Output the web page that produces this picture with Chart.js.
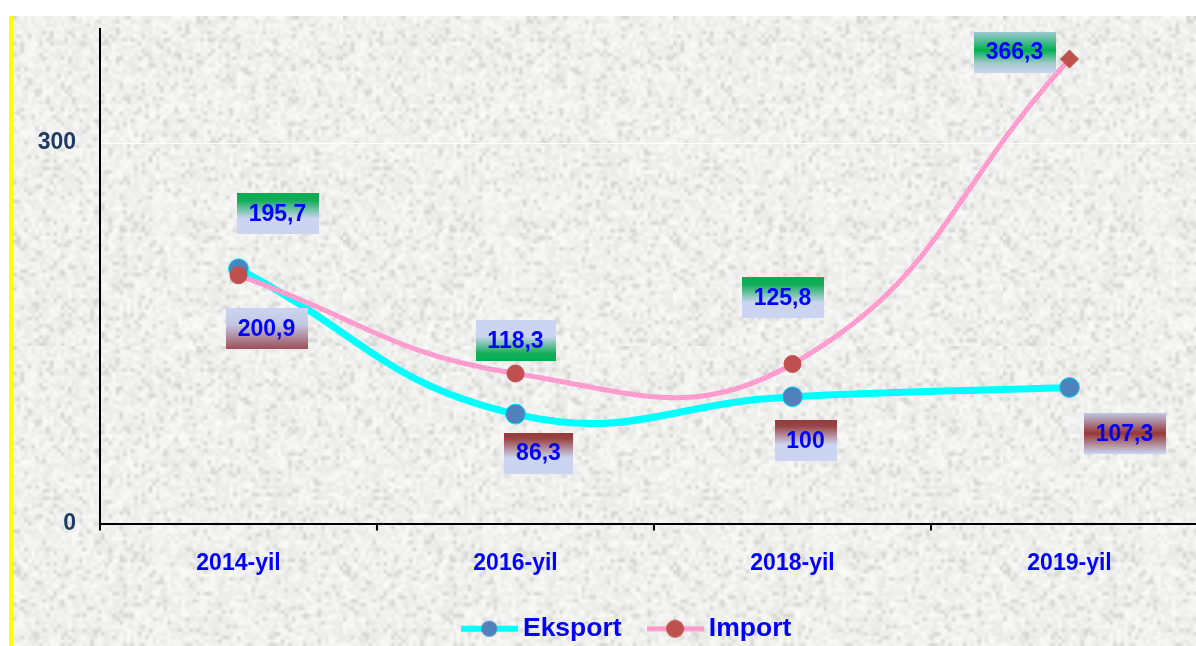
<!DOCTYPE html>
<html>
<head>
<meta charset="utf-8">
<script src="https://cdn.jsdelivr.net/npm/chart.js@4.4.0/dist/chart.umd.min.js"></script>
<style>
  html, body { margin: 0; padding: 0; background: #fff; }
  #bar { position: absolute; left: 9px; top: 16px; width: 4px; height: 630px; background: #ffff00; }
  #wrap { position: absolute; left: 13px; top: 16px; width: 1183px; height: 630px; overflow: hidden; background-color: #ebebe9; }
  #wrap canvas { position: absolute; left: 0; top: 0; }
</style>
</head>
<body>
<div id="bar"></div>
<div id="wrap"><canvas id="chart" width="1246" height="640"></canvas></div>
<script>
const years = ['2014-yil', '2016-yil', '2018-yil', '2019-yil'];
const eksport = [200.9, 86.3, 100, 107.3];
const importVals = [195.7, 118.3, 125.8, 366.3];
const yTicks = [0, 300];

const FONT = 'Arial, "Liberation Sans", sans-serif';

// label box placement relative to the point (dx, dy of box centre)
const eksportOffsets = [[28, 60], [23, 39], [13, 44], [55, 46]];
const importOffsets = [[39, -62], [0, -33], [-10, -66], [-55, -7]];

const lav = '#cbd5f1';
const green = '#00b050';
const red = '#953838';
const fills = {
  greenTop: [[0, green], [0.18, '#12ad58'], [0.62, lav], [1, lav]],
  greenBottom: [[0, lav], [0.4, lav], [0.82, '#12ad58'], [1, green]],
  greenMid: [[0, '#9ccad2'], [0.45, green], [0.75, '#9fc8c8'], [1, lav]],
  redTop: [[0, red], [0.15, '#9a4545'], [0.6, lav], [1, lav]],
  redBottom: [[0, lav], [0.4, '#c4c8e2'], [1, '#9c4f58']],
  redMid: [[0, '#c2c6e4'], [0.5, red], [1, lav]]
};
const eksportFills = ['redBottom', 'redTop', 'redTop', 'redMid'];
const importFills = ['greenTop', 'greenBottom', 'greenTop', 'greenMid'];

// paper-like background texture
function hash(x, y) {
  let h = x * 374761393 + y * 668265263;
  h = (h ^ (h >> 13)) * 1274126177;
  h = h ^ (h >> 16);
  return (h & 0xffff) / 0xffff;
}
function makeTexture() {
  const s = document.createElement('canvas');
  s.width = 90; s.height = 90;
  const sc = s.getContext('2d');
  const img = sc.createImageData(90, 90);
  for (let y = 0; y < 90; y++) {
    for (let x = 0; x < 90; x++) {
      const n = hash(x, y);
      let v = 229 + n * 22;
      if (n < 0.1) v -= 16;
      const i = (y * 90 + x) * 4;
      img.data[i] = v; img.data[i + 1] = v; img.data[i + 2] = v - 2; img.data[i + 3] = 255;
    }
  }
  sc.putImageData(img, 0, 0);
  const b = document.createElement('canvas');
  b.width = 330; b.height = 330;
  const bc = b.getContext('2d');
  bc.imageSmoothingEnabled = true;
  bc.drawImage(s, 0, 0, 330, 330);
  return b.toDataURL();
}
document.getElementById('wrap').style.backgroundImage = 'url(' + makeTexture() + ')';

function pinkPattern() {
  const c = document.createElement('canvas');
  c.width = 4; c.height = 4;
  const g = c.getContext('2d');
  g.fillStyle = '#ff99cc';
  g.fillRect(0, 0, 4, 4);
  g.fillStyle = '#ffc2df';
  g.fillRect(0, 0, 1, 1);
  g.fillRect(2, 2, 1, 1);
  return g.createPattern(c, 'repeat');
}
const pink = pinkPattern();

function legendMark(lineColor, lineW, dotColor, r) {
  const c = document.createElement('canvas');
  c.width = 57; c.height = 22;
  const g = c.getContext('2d');
  g.fillStyle = lineColor;
  g.fillRect(0, 11 - lineW / 2, 57, lineW);
  g.fillStyle = dotColor;
  g.beginPath();
  g.arc(28, 11, r, 0, Math.PI * 2);
  g.fill();
  return c;
}
const legendMarks = [
  legendMark('#00ffff', 6, '#4f81bd', 8),
  legendMark('#ff99cc', 5, '#c0504d', 9)
];

function fmt(v) {
  return String(v).replace('.', ',');
}

const boxLabels = {
  id: 'boxLabels',
  afterLayout(chart) {
    // legend sits a little right of the canvas centre in the original
    chart.legend.left += 40;
  },
  afterDatasetsDraw(chart) {
    const ctx = chart.ctx;
    ctx.save();
    ctx.font = 'bold 23px ' + FONT;
    ctx.textAlign = 'center';
    ctx.textBaseline = 'middle';
    chart.data.datasets.forEach((ds, di) => {
      const meta = chart.getDatasetMeta(di);
      meta.data.forEach((pt, i) => {
        const text = fmt(ds.data[i]);
        const cx = pt.x + ds.labelOffsets[i][0];
        const cy = pt.y + ds.labelOffsets[i][1];
        const w = Math.round(ctx.measureText(text).width + 24);
        const h = 41;
        const x0 = Math.round(cx - w / 2), y0 = Math.round(cy - h / 2);
        const grad = ctx.createLinearGradient(0, y0, 0, y0 + h);
        fills[ds.labelFills[i]].forEach(s => grad.addColorStop(s[0], s[1]));
        ctx.fillStyle = grad;
        ctx.fillRect(x0, y0, w, h);
        ctx.fillStyle = '#0000ff';
        ctx.fillText(text, cx, cy + 1);
      });
    });
    ctx.restore();
  }
};

function noEdgePadding(scale) {
  scale.paddingTop = 0;
  scale.paddingBottom = 0;
  scale.paddingLeft = 0;
  scale.paddingRight = 0;
}

new Chart(document.getElementById('chart'), {
  type: 'line',
  data: {
    labels: years,
    datasets: [
      {
        label: 'Eksport',
        data: eksport,
        order: 1,
        borderColor: '#00ffff',
        borderWidth: 7,
        tension: 0.45,
        pointRadius: 10,
        pointBackgroundColor: '#4f81bd',
        pointBorderColor: '#00e8ff',
        pointBorderWidth: 1,
        labelOffsets: eksportOffsets,
        labelFills: eksportFills
      },
      {
        label: 'Import',
        data: importVals,
        order: 0,
        borderColor: pink,
        borderWidth: 5,
        tension: 0.45,
        pointRadius: [8.5, 8.5, 8.5, 9],
        pointStyle: ['circle', 'circle', 'circle', 'rectRot'],
        pointBackgroundColor: '#c0504d',
        pointBorderColor: '#c0504d',
        pointBorderWidth: 1,
        labelOffsets: importOffsets,
        labelFills: importFills
      }
    ]
  },
  options: {
    responsive: false,
    animation: false,
    layout: { padding: { top: 13, right: 51, left: 0, bottom: 4 } },
    plugins: {
      tooltip: { enabled: false },
      legend: {
        position: 'bottom',
        labels: {
          usePointStyle: true,
          pointStyleWidth: 40,
          boxHeight: 20,
          padding: 34,
          color: '#0000ff',
          font: { family: FONT, size: 26.5, weight: 'bold' },
          generateLabels(chart) {
            const items = Chart.defaults.plugins.legend.labels.generateLabels(chart);
            items.sort((a, b) => a.datasetIndex - b.datasetIndex);
            items.forEach(it => { it.pointStyle = legendMarks[it.datasetIndex]; });
            return items;
          }
        }
      }
    },
    scales: {
      x: {
        offset: true,
        grid: { offset: true, drawOnChartArea: false, drawTicks: true, tickLength: 7, color: '#000', lineWidth: 2 },
        border: { color: '#000', width: 2 },
        ticks: { color: '#0000ff', font: { family: FONT, size: 23, weight: 'bold' }, padding: 19, maxRotation: 0 },
        afterFit(scale) { scale.height = 58; noEdgePadding(scale); }
      },
      y: {
        min: 0,
        max: 390,
        afterBuildTicks(scale) { scale.ticks = yTicks.map(v => ({ value: v })); },
        grid: {
          drawTicks: false,
          color: c => (c.tick && c.tick.value === 300 ? '#ffffff' : 'rgba(0,0,0,0)'),
          lineWidth: 1
        },
        border: { color: '#000', width: 2 },
        ticks: { color: '#1f3b63', font: { family: FONT, size: 23, weight: 'bold' }, padding: 24 },
        afterFit(scale) { scale.width = 87; noEdgePadding(scale); }
      }
    }
  },
  plugins: [boxLabels]
});
</script>
</body>
</html>
